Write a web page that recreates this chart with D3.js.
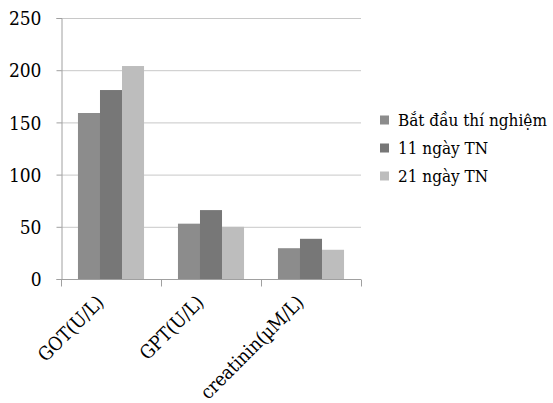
<!DOCTYPE html>
<html><head><meta charset="utf-8">
<script src="https://cdn.jsdelivr.net/npm/d3@7"></script>
<style>body{margin:0;background:#fff;} svg text{font-family:"DejaVu Serif Condensed","DejaVu Serif",serif !important;font-stretch:condensed;fill:#000;}</style>
</head><body>
<svg id="c" width="553" height="403"></svg>
<script>
const categories = ["GOT(U/L)", "GPT(U/L)", "creatinin(µM/L)"];
const seriesNames = ["Bắt đầu thí nghiệm", "11 ngày TN", "21 ngày TN"];
const s1 = [159, 53, 29.5];
const s2 = [181, 66, 38.5];
const s3 = [204, 50, 28];
const yTicks = [0, 50, 100, 150, 200, 250];
const colors = ["#8c8c8c", "#777777", "#bdbdbd"];
const series = [s1, s2, s3];

(function () {
const svg = d3.select("#c");
const mLeft = 61, mRight = 361, mTop = 18, mBottom = 279;
const x = d3.scaleBand().domain(categories).range([mLeft, mRight]).paddingInner(0).paddingOuter(0);
const x1 = d3.scaleBand().domain(d3.range(3)).range([0, x.bandwidth()]).paddingInner(0).paddingOuter(0.77);
const y = d3.scaleLinear().domain([0, 250]).range([mBottom, mTop]);

svg.append("g").selectAll("line").data(yTicks).join("line")
  .attr("x1", mLeft).attr("x2", mRight)
  .attr("y1", d => y(d) + 0.5).attr("y2", d => y(d) + 0.5)
  .attr("stroke", "#c8c8c8").attr("stroke-width", 1);

const ya = svg.append("g").attr("transform", `translate(${mLeft + 0.5},0)`)
  .call(d3.axisLeft(y).tickValues(yTicks).tickSize(5).tickPadding(15));
ya.select(".domain").attr("stroke", "#a0a0a0");
ya.selectAll(".tick line").attr("stroke", "#a0a0a0");
ya.selectAll("text").style("font-size", "19px").attr("dy", "0.35em");

categories.forEach((c, i) => {
  series.forEach((s, j) => {
    svg.append("rect")
      .attr("x", x(c) + x1(j))
      .attr("width", x1.bandwidth())
      .attr("y", y(s[i]))
      .attr("height", y(0) - y(s[i]))
      .attr("fill", colors[j]);
  });
});

const xa = svg.append("g").attr("transform", `translate(0,${mBottom + 0.5})`);
xa.append("line").attr("x1", mLeft).attr("x2", mRight).attr("stroke", "#a0a0a0");
const bounds = [...categories.map(c => x(c)), mRight];
xa.selectAll(".tk").data(bounds).join("line").attr("class", "tk")
  .attr("x1", d => Math.round(d) + 0.5).attr("x2", d => Math.round(d) + 0.5)
  .attr("y1", 0).attr("y2", 7).attr("stroke", "#a0a0a0");
xa.selectAll(".lbl").data(categories).join("text").attr("class", "lbl")
  .attr("transform", d => `translate(${x(d) + x.bandwidth() / 2 - 6},${24}) rotate(-45)`)
  .attr("text-anchor", "end")
  .style("font-size", "19px")
  .text(d => d);

const lg = svg.append("g");
seriesNames.forEach((n, j) => {
  const cy = 120 + j * 28;
  lg.append("rect").attr("x", 380).attr("y", cy - 4.5).attr("width", 9).attr("height", 9).attr("fill", colors[j]);
  lg.append("text").attr("x", 398).attr("y", cy).attr("dy", "0.35em").style("font-size", "17px").text(n);
});
})();
</script>
</body></html>
